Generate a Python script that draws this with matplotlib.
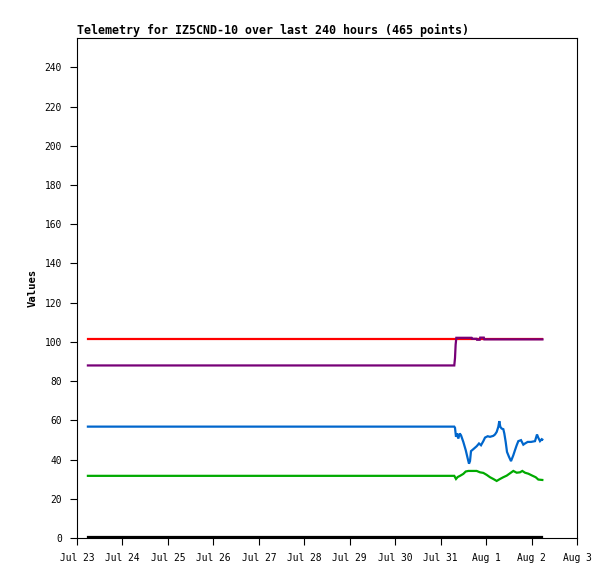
"""Telemetry plot for IZ5CND-10 (last 240 hours)."""

from datetime import datetime, timedelta

import matplotlib

matplotlib.use("Agg")
import matplotlib.pyplot as plt

START = datetime(2024, 7, 23)

# time offsets in days from Jul 23 00:00
red_t = [0.24, 10.24]
red_v = [101.3, 101.3]

purple_t = [0.24, 8.30, 8.316, 8.33, 8.345, 8.68, 8.69, 8.79, 8.80, 8.86,
            8.87, 8.95, 8.96, 10.24]
purple_v = [88.0, 88.0, 91.8, 98.6, 102.1, 102.1, 101.6, 101.6, 101.1, 101.1,
            102.2, 102.2, 101.3, 101.3]

blue_t = [0.24, 8.30, 8.316, 8.338, 8.36, 8.389, 8.42, 8.448, 8.499, 8.552,
          8.596, 8.624, 8.646, 8.668, 8.719, 8.793, 8.844, 8.888, 8.939,
          8.976, 9.035, 9.086, 9.159, 9.196, 9.233, 9.269, 9.291, 9.313,
          9.343, 9.379, 9.401, 9.431, 9.46, 9.504, 9.548, 9.599, 9.636,
          9.673, 9.709, 9.768, 9.819, 9.856, 9.915, 9.988, 10.076, 10.12,
          10.149, 10.186, 10.224, 10.237]
blue_v = [56.8, 56.8, 56.2, 51.6, 53.3, 50.7, 53.3, 52.4, 49.0, 44.8,
          40.5, 37.9, 39.2, 44.3, 45.3, 46.8, 48.2, 47.3, 49.4,
          51.2, 51.9, 51.6, 52.1, 52.8, 54.1, 56.7, 59.6, 56.7,
          55.8, 55.5, 53.3, 49.0, 43.9, 41.4, 39.2, 42.2, 44.8,
          47.3, 49.4, 49.9, 47.6, 48.2, 49.0, 49.0, 49.4, 52.8,
          51.1, 49.4, 50.4, 50.2]

green_t = [0.24, 8.30, 8.338, 8.375, 8.426, 8.499, 8.551, 8.609, 8.793,
           8.866, 8.939, 9.013, 9.086, 9.159, 9.233, 9.306, 9.379, 9.453,
           9.526, 9.599, 9.673, 9.746, 9.797, 9.856, 9.929, 10.017, 10.091,
           10.149, 10.237]
green_v = [31.7, 31.7, 30.1, 31.1, 31.7, 32.7, 33.9, 34.2, 34.2,
           33.5, 33.2, 32.2, 31.0, 30.1, 29.1, 30.1, 31.0, 31.8,
           33.0, 34.2, 33.3, 33.5, 34.2, 33.3, 32.8, 31.8, 31.0,
           29.8, 29.6]

black_t = [0.24, 10.24]
black_v = [0.3, 0.3]

series = [
    (black_t, black_v, "#000000"),
    (red_t, red_v, "#ff0000"),
    (green_t, green_v, "#00aa00"),
    (blue_t, blue_v, "#0066cc"),
    (purple_t, purple_v, "#770077"),
]

day_labels = ["Jul 23", "Jul 24", "Jul 25", "Jul 26", "Jul 27", "Jul 28",
              "Jul 29", "Jul 30", "Jul 31", "Aug 1", "Aug 2", "Aug 3"]
y_ticks = list(range(0, 241, 20))


def to_dates(offsets):
    return [START + timedelta(days=d) for d in offsets]


def main() -> None:
    plt.rcParams["font.family"] = ["DejaVu Sans Mono"]

    fig = plt.figure(figsize=(6.15, 5.79), dpi=100)
    ax = fig.add_axes([77 / 615, 1 - 538 / 579, 500 / 615, 500 / 579])

    for t, v, color in series:
        ax.plot(to_dates(t), v, color=color, lw=1.6, solid_joinstyle="miter",
                clip_on=False)

    day_ticks = to_dates(range(len(day_labels)))
    ax.set_xlim(day_ticks[0], day_ticks[-1])
    ax.set_ylim(0, 255)
    ax.set_xticks(day_ticks)
    ax.set_xticklabels(day_labels)
    ax.set_yticks(y_ticks)
    ax.minorticks_off()
    ax.tick_params(direction="out", length=5, width=0.8, labelsize=6.9,
                   pad=6)

    for spine in ax.spines.values():
        spine.set_linewidth(0.8)

    ax.set_ylabel("Values", fontsize=7.6, fontweight="bold", labelpad=5)
    ax.set_title("Telemetry for IZ5CND-10 over last 240 hours (465 points)",
                 loc="left", fontsize=8.35, fontweight="bold", pad=3)

    fig.savefig("out.png", dpi=100)


if __name__ == "__main__":
    main()
